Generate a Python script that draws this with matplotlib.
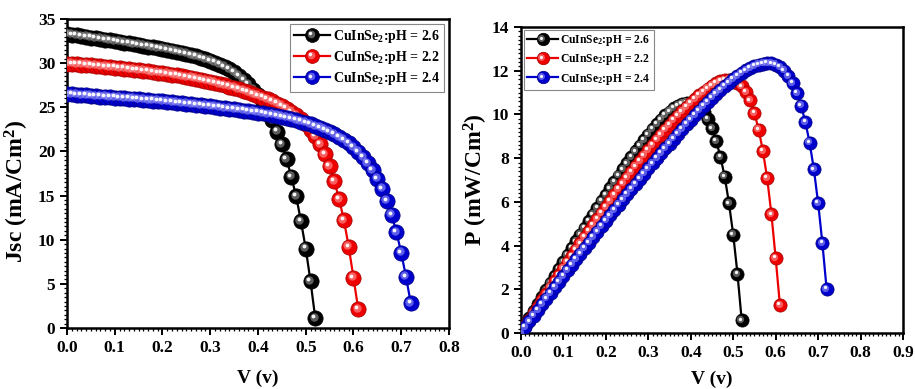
import matplotlib
matplotlib.use('Agg')
import matplotlib.pyplot as plt
from matplotlib import transforms
from matplotlib.lines import Line2D
from matplotlib.legend_handler import HandlerLine2D
from matplotlib.ticker import MultipleLocator, FormatStrFormatter
import numpy as np

plt.rcParams['font.family'] = 'Liberation Serif'
plt.rcParams['font.weight'] = 'bold'
plt.rcParams['mathtext.fontset'] = 'custom'
plt.rcParams['mathtext.rm'] = 'Liberation Serif:bold'
plt.rcParams['mathtext.it'] = 'Liberation Serif:bold'
plt.rcParams['mathtext.bf'] = 'Liberation Serif:bold'

labels = ['CuInSe$_2$:pH = 2.6', 'CuInSe$_2$:pH = 2.2', 'CuInSe$_2$:pH = 2.4']

# pH = 2.6 (black)
v_26 = [0.00, 0.01, 0.02, 0.03, 0.04, 0.05, 0.06, 0.07, 0.08, 0.09,
        0.10, 0.11, 0.12, 0.13, 0.14, 0.15, 0.16, 0.17, 0.18, 0.19,
        0.20, 0.21, 0.22, 0.23, 0.24, 0.25, 0.26, 0.27, 0.28, 0.29,
        0.30, 0.31, 0.32, 0.33, 0.34, 0.35, 0.36, 0.37, 0.38, 0.39,
        0.40, 0.41, 0.42, 0.43, 0.44, 0.45, 0.46, 0.47, 0.48, 0.49,
        0.50, 0.51, 0.52]
j_26 = [33.30, 33.22, 33.14, 33.06, 32.98, 32.90, 32.82, 32.74, 32.65, 32.57,
        32.48, 32.40, 32.32, 32.23, 32.15, 32.06, 31.97, 31.88, 31.79, 31.70,
        31.60, 31.50, 31.39, 31.28, 31.17, 31.04, 30.91, 30.77, 30.62, 30.45,
        30.27, 30.07, 29.84, 29.58, 29.29, 28.95, 28.57, 28.13, 27.61, 27.01,
        26.35, 25.55, 24.65, 23.55, 22.25, 20.80, 19.10, 17.10, 14.90, 12.10,
        9.00, 5.30, 1.10]

# pH = 2.2 (red)
v_22 = [0.00, 0.01, 0.02, 0.03, 0.04, 0.05, 0.06, 0.07, 0.08, 0.09,
        0.10, 0.11, 0.12, 0.13, 0.14, 0.15, 0.16, 0.17, 0.18, 0.19,
        0.20, 0.21, 0.22, 0.23, 0.24, 0.25, 0.26, 0.27, 0.28, 0.29,
        0.30, 0.31, 0.32, 0.33, 0.34, 0.35, 0.36, 0.37, 0.38, 0.39,
        0.40, 0.41, 0.42, 0.43, 0.44, 0.45, 0.46, 0.47, 0.48, 0.49,
        0.50, 0.51, 0.52, 0.53, 0.54, 0.55, 0.56, 0.57, 0.58, 0.59,
        0.60, 0.61]
j_22 = [29.93, 29.90, 29.87, 29.83, 29.79, 29.75, 29.70, 29.65, 29.60, 29.55,
        29.50, 29.44, 29.38, 29.32, 29.26, 29.20, 29.13, 29.06, 28.99, 28.92,
        28.85, 28.77, 28.69, 28.60, 28.51, 28.42, 28.32, 28.22, 28.11, 28.00,
        27.88, 27.75, 27.62, 27.48, 27.34, 27.19, 27.03, 26.86, 26.68, 26.50,
        26.30, 26.10, 25.89, 25.66, 25.42, 25.15, 24.85, 24.50, 24.10, 23.65,
        23.10, 22.45, 21.70, 20.80, 19.70, 18.30, 16.60, 14.60, 12.20, 9.20,
        5.70, 2.10]

# pH = 2.4 (blue)
v_24 = [0.00, 0.01, 0.02, 0.03, 0.04, 0.05, 0.06, 0.07, 0.08, 0.09,
        0.10, 0.11, 0.12, 0.13, 0.14, 0.15, 0.16, 0.17, 0.18, 0.19,
        0.20, 0.21, 0.22, 0.23, 0.24, 0.25, 0.26, 0.27, 0.28, 0.29,
        0.30, 0.31, 0.32, 0.33, 0.34, 0.35, 0.36, 0.37, 0.38, 0.39,
        0.40, 0.41, 0.42, 0.43, 0.44, 0.45, 0.46, 0.47, 0.48, 0.49,
        0.50, 0.51, 0.52, 0.53, 0.54, 0.55, 0.56, 0.57, 0.58, 0.59,
        0.60, 0.61, 0.62, 0.63, 0.64, 0.65, 0.66, 0.67, 0.68, 0.69,
        0.70, 0.71, 0.72]
j_24 = [26.50, 26.46, 26.42, 26.38, 26.34, 26.30, 26.26, 26.22, 26.18, 26.14,
        26.10, 26.06, 26.02, 25.98, 25.94, 25.90, 25.86, 25.81, 25.76, 25.71,
        25.66, 25.61, 25.56, 25.51, 25.45, 25.39, 25.33, 25.27, 25.21, 25.15,
        25.09, 25.03, 24.97, 24.91, 24.84, 24.77, 24.70, 24.63, 24.56, 24.48,
        24.40, 24.32, 24.23, 24.13, 24.03, 23.92, 23.80, 23.67, 23.53, 23.38,
        23.22, 23.05, 22.86, 22.66, 22.44, 22.20, 21.93, 21.63, 21.30, 20.90,
        20.45, 19.95, 19.35, 18.65, 17.85, 16.90, 15.75, 14.40, 12.80, 10.85,
        8.50, 5.80, 2.80]

series = [
    (v_26, j_26, 'black', '#9a9a9a', '#000000'),
    (v_22, j_22, '#ee0000', '#ff9a9a', '#a00000'),
    (v_24, j_24, '#0000cc', '#9a9aff', '#000080'),
]
shine = [(0.55, 0.6, 0.10, 1), (0.25, 0.95, 0.14, 0)]   # size frac, alpha, offset, use light colour

fig = plt.figure(figsize=(9.15, 3.89), dpi=100)
ax1 = fig.add_axes([0.0732, 0.1568, 0.4175, 0.7944])
ax2 = fig.add_axes([0.5694, 0.1440, 0.4175, 0.7866])


def balls(ax, v, y, col, light, dark, ms, z):
    ax.plot(v, y, '-', color=col, lw=1.6, zorder=z)
    ax.plot(v, y, 'o', ls='none', ms=ms, mfc=col, mec=dark, mew=0.5, zorder=z)
    for frac, a, off, use_light in shine:
        tr = transforms.offset_copy(ax.transData, fig=fig, x=-off * ms, y=off * ms, units='points')
        ax.plot(v, y, 'o', ls='none', ms=ms * frac, mfc=light if use_light else 'white',
                mec='none', alpha=a, transform=tr, zorder=z)


class BallHandler(HandlerLine2D):
    def __init__(self, light, **kw):
        super().__init__(**kw)
        self.light = light

    def create_artists(self, legend, orig, xd, yd, w, h, fs, trans):
        arts = super().create_artists(legend, orig, xd, yd, w, h, fs, trans)
        xs = np.asarray(arts[0].get_xdata())
        ys = np.asarray(arts[0].get_ydata())
        xm, ym = xs[len(xs) // 2], ys[len(ys) // 2]
        ms = orig.get_markersize()
        for frac, a, off, use_light in shine:
            l = Line2D([xm - off * ms], [ym + off * ms], ls='none', marker='o', ms=ms * frac,
                       mfc=self.light if use_light else 'white', mec='none', alpha=a)
            l.set_transform(trans)
            arts.append(l)
        return arts


def make_legend(ax, ms, fs, **kw):
    hs, hmap = [], {}
    for v, y, col, light, dark in series:
        h = Line2D([], [], color=col, lw=1.6, marker='o', ms=ms, mfc=col, mec=dark, mew=0.5)
        hs.append(h)
        hmap[h] = BallHandler(light)
    leg = ax.legend(hs, labels, handler_map=hmap, fontsize=fs, fancybox=False,
                    edgecolor='#888888', framealpha=1, handletextpad=0.2, **kw)
    leg.get_frame().set_linewidth(0.8)
    return leg


for i, (v, j, col, light, dark) in enumerate(series):
    balls(ax1, v, j, col, light, dark, 11, 3 + i)
    p = np.array(v) * np.array(j)   # V x mA/cm2 = mW/cm2
    balls(ax2, v, p, col, light, dark, 9.5, 3 + i)

ax1.set_xlim(0, 0.8)
ax1.set_ylim(0, 35)
ax1.xaxis.set_major_locator(MultipleLocator(0.1))
ax1.xaxis.set_minor_locator(MultipleLocator(0.01))
ax1.yaxis.set_major_locator(MultipleLocator(5))
ax1.yaxis.set_minor_locator(MultipleLocator(0.5))
ax1.set_xlabel('V (v)', fontsize=14, fontweight='bold', labelpad=10)
ax1.set_ylabel('Jsc (mA/Cm$^2$)', fontsize=17, fontweight='bold')
ax1.yaxis.set_label_coords(-0.094, 0.443)

ax2.set_xlim(0, 0.9)
ax2.set_ylim(0, 14)
ax2.xaxis.set_major_locator(MultipleLocator(0.1))
ax2.xaxis.set_minor_locator(MultipleLocator(0.01))
ax2.yaxis.set_major_locator(MultipleLocator(2))
ax2.yaxis.set_minor_locator(MultipleLocator(0.2))
ax2.set_xlabel('V (v)', fontsize=14, fontweight='bold', labelpad=7)
ax2.set_ylabel('P (mW/Cm$^2$)', fontsize=17, fontweight='bold')
ax2.yaxis.set_label_coords(-0.08, 0.5)

for ax in (ax1, ax2):
    for s in ax.spines.values():
        s.set_linewidth(1.8)
    ax.tick_params(which='major', direction='out', length=5, width=1.4, labelsize=12.5)
    ax.tick_params(which='minor', direction='out', length=2.5, width=0.9)
    ax.xaxis.set_major_formatter(FormatStrFormatter('%.1f'))

make_legend(ax1, 10, 10, loc='upper right', handlelength=2.6, labelspacing=0.3,
            borderpad=0.3, borderaxespad=0.35)
make_legend(ax2, 9, 8.4, loc='upper left', handlelength=2.6, labelspacing=0.35,
            borderpad=0.3, borderaxespad=0.25)

fig.savefig('out.png', dpi=100)
